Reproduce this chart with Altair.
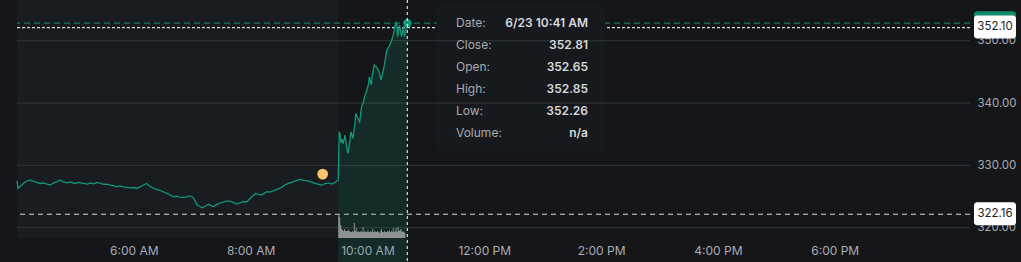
import altair as alt
import pandas as pd

DAY = "2023-06-23"

# Pre-market price (4:00 - 9:29)
pre_times = ["04:00","04:01","04:03","04:05","04:08","04:10","04:13","04:16","04:20","04:24","04:27","04:30",
             "04:34","04:38","04:41","04:44","04:47","04:51","04:55","04:59","05:03","05:07","05:12","05:16",
             "05:19","05:22","05:26","05:29","05:32","05:36","05:39","05:42","05:46","05:49","05:53","05:57",
             "06:00","06:03","06:07","06:10","06:13","06:16","06:19","06:22","06:26","06:30","06:34","06:38",
             "06:41","06:44","06:47","06:51","06:54","06:57","07:00","07:03","07:05","07:08","07:10","07:13",
             "07:17","07:20","07:22","07:25","07:29","07:32","07:35","07:39","07:42","07:46","07:49","07:52",
             "07:56","07:59","08:02","08:05","08:08","08:11","08:14","08:17","08:20","08:24","08:27","08:31",
             "08:35","08:39","08:44","08:47","08:51","08:54","08:58","09:02","09:06","09:09","09:13","09:16",
             "09:20","09:23","09:25","09:27","09:29"]
pre_close = [327.54,326.30,326.60,326.85,327.30,327.45,327.65,327.50,327.28,327.10,327.20,327.05,
             326.85,327.20,327.40,327.65,327.40,327.20,327.35,327.10,327.27,327.15,327.00,327.20,
             327.05,327.27,327.10,326.95,327.00,326.85,326.75,326.57,326.70,326.55,326.48,326.40,
             326.45,326.30,326.60,326.85,327.10,326.70,326.45,326.20,326.05,325.77,325.50,325.20,
             324.97,325.05,324.90,324.87,324.95,325.10,324.97,324.30,323.60,323.40,323.20,323.45,
             323.75,323.50,323.37,323.70,324.00,324.10,324.25,324.28,324.05,323.80,324.00,324.20,
             324.17,324.60,325.10,325.50,325.35,325.24,325.50,325.77,325.70,325.95,326.16,326.40,
             326.85,327.10,327.38,327.55,327.76,327.60,327.54,327.35,327.10,327.00,326.85,327.05,
             327.20,327.00,327.10,327.30,327.54]

# Regular session price (9:30 - 10:41)
reg_times = ["09:30","09:31","09:32","09:33","09:34","09:35","09:37","09:39","09:40","09:42","09:43","09:45",
             "09:47","09:48","09:50","09:52","09:54","09:56","09:57","09:59","10:01","10:02","10:04","10:05",
             "10:07","10:09","10:11","10:12","10:14","10:15","10:17","10:19","10:20","10:22","10:23","10:25",
             "10:27","10:28","10:30","10:31","10:33","10:35","10:37","10:38","10:39","10:41"]
reg_close = [327.60,335.40,334.90,333.60,334.20,333.50,334.87,332.60,331.93,334.00,335.40,334.34,
             336.50,338.35,337.60,337.00,339.41,340.20,341.00,341.80,343.00,344.20,342.90,344.50,
             346.10,345.80,345.30,345.00,343.70,344.40,345.80,347.60,348.50,349.00,349.30,350.10,
             351.20,352.25,353.05,350.64,352.50,350.64,352.25,350.64,351.50,352.81]

# Volume per minute, thousands of shares (9:30 - 10:39)
vol_start = "09:30"
volume_k = [2400,2100,1300,900,800,700,900,700,700,700,800,700,600,600,700,600,1500,700,1000,600,
            700,600,600,700,600,1100,600,700,600,600,800,600,600,700,600,900,600,700,600,600,
            700,600,500,700,900,600,600,700,600,600,700,600,800,600,700,600,1000,600,700,1000,
            600,1100,700,800,900,600,700,600,500,500]

# Session bounds, ticks, reference levels
premarket = ["04:00", "09:30"]
x_domain = ["04:00", "20:19"]
x_ticks_h = [6, 8, 10, 12, 14, 16, 18]
y_ticks = [320, 330, 340, 350]
y_domain = [318.35, 356.53]
prev_close = 322.16
cursor_price = 352.10
last_price = 352.81
cursor_time = "10:41"
event_time = "09:14"
event_price = 328.6

tip_labels = ["Date:", "Close:", "Open:", "High:", "Low:", "Volume:"]
tip_values = ["6/23 10:41 AM", "352.81", "352.65", "352.85", "352.26", "n/a"]

BG = "#14161a"
GREEN = "#13987a"
TXT = "#a9acb2"
FONT = "Inter"
OX = 17  # plot origin x inside the page (pixel values below are relative to it)


def ts(hm):
    return f"{DAY}T{hm}:00"


price_pre = pd.DataFrame({"t": [ts(t) for t in pre_times], "p": pre_close})
price_reg = pd.DataFrame({"t": [ts(t) for t in reg_times], "p": reg_close})
price_all = pd.concat([price_pre, price_reg], ignore_index=True)
vol_t = pd.date_range(ts(vol_start), periods=len(volume_k), freq="min").strftime("%Y-%m-%dT%H:%M:%S")
vol_df = pd.DataFrame({"t": list(vol_t), "v": volume_k})

x_scale = alt.Scale(domain=[ts(x_domain[0]), ts(x_domain[1])])
y_scale = alt.Scale(domain=y_domain, nice=False, zero=False)
tick_vals = [alt.DateTime(year=2023, month=6, date=23, hours=h) for h in x_ticks_h]

X = alt.X("t:T", scale=x_scale, title=None,
          axis=alt.Axis(values=tick_vals, format="%-I:%M %p", grid=False, domain=False, ticks=False,
                        labelColor=TXT, labelFont=FONT, labelFontSize=12, labelPadding=7,
                        labelFlush=False))
Y = alt.Y("p:Q", scale=y_scale, title=None,
          axis=alt.Axis(orient="right", values=y_ticks, format=".2f", grid=False, domain=False,
                        ticks=False, labelColor=TXT, labelFont=FONT, labelFontSize=11.5,
                        labelPadding=7))

# Pre-market background
pm_df = pd.DataFrame({"t0": [ts(premarket[0])], "t1": [ts(premarket[1])]})
pm_bg = alt.Chart(pm_df).mark_rect(color="#191c20").encode(
    x=alt.X("t0:T", scale=x_scale), x2="t1:T", y=alt.value(0), y2=alt.value(238))

# Reference lines
lvl_df = pd.DataFrame({"p": [prev_close]})
prev_rule = alt.Chart(lvl_df).mark_rule(color="#d9dadc", strokeDash=[5, 4], strokeWidth=1).encode(
    y=alt.Y("p:Q", scale=y_scale))
last_rule = alt.Chart(pd.DataFrame({"p": [last_price]})).mark_rule(
    color=GREEN, strokeDash=[6, 4], strokeWidth=1.3, opacity=0.75).encode(y=alt.Y("p:Q", scale=y_scale))
cur_rule = alt.Chart(pd.DataFrame({"p": [cursor_price]})).mark_rule(
    color="#d9dadc", strokeDash=[3, 2], strokeWidth=1.2).encode(y=alt.Y("p:Q", scale=y_scale))

# Tooltip panel background
tip_bg = alt.Chart(pd.DataFrame({"a": [0]})).mark_rect(color="#16191d", cornerRadius=4).encode(
    x=alt.value(437 - OX), x2=alt.value(605 - OX), y=alt.value(5), y2=alt.value(152))

# Gridlines
grid = alt.Chart(pd.DataFrame({"p": y_ticks})).mark_rule(color="#33363b", strokeWidth=1).encode(
    y=alt.Y("p:Q", scale=y_scale))

# Price area + line
area = alt.Chart(price_reg).mark_area(
    line=False,
    color=alt.Gradient(gradient="linear",
                       stops=[alt.GradientStop(color="rgba(20,160,126,0.16)", offset=0),
                              alt.GradientStop(color="rgba(20,160,126,0.02)", offset=1)],
                       x1=0, x2=0, y1=0, y2=1)).encode(
    x=alt.X("t:T", scale=x_scale), y=alt.Y("p:Q", scale=y_scale), y2=alt.value(238))
line = alt.Chart(price_all).mark_line(color=GREEN, strokeWidth=1.3).encode(x=X, y=Y)

# Event dot & last dot
ev = alt.Chart(pd.DataFrame({"t": [ts(event_time)], "p": [event_price]})).mark_point(
    filled=True, color="#f8c46c", size=115, opacity=1).encode(
    x=alt.X("t:T", scale=x_scale), y=alt.Y("p:Q", scale=y_scale))
last_dot = alt.Chart(pd.DataFrame({"t": [ts(cursor_time)], "p": [last_price]})).mark_point(
    filled=True, color=GREEN, size=70, opacity=1).encode(
    x=alt.X("t:T", scale=x_scale), y=alt.Y("p:Q", scale=y_scale))

# Vertical crosshair
vcross = alt.Chart(pd.DataFrame({"t": [ts(cursor_time)]})).mark_rule(
    color="#d9dadc", strokeDash=[3, 3], strokeWidth=1.2).encode(
    x=alt.X("t:T", scale=x_scale), y=alt.value(0), y2=alt.value(262))

# Tooltip text
tip_df = pd.DataFrame({"lab": tip_labels, "val": tip_values, "i": list(range(len(tip_labels)))})
tip_lab = alt.Chart(tip_df).transform_calculate(py="23 + datum.i * 22").mark_text(
    align="left", baseline="middle", font=FONT, fontSize=12, color="#a8abb0").encode(
    x=alt.value(456 - OX), y=alt.Y("py:Q", scale=None), text="lab:N")
tip_val = alt.Chart(tip_df).transform_calculate(py="23 + datum.i * 22").mark_text(
    align="right", baseline="middle", font=FONT, fontSize=12, fontWeight=600, color="#d6d8db").encode(
    x=alt.value(588 - OX), y=alt.Y("py:Q", scale=None), text="val:N")

# Price label boxes on right
green_box = alt.Chart(pd.DataFrame({"p": [last_price]})).mark_rect(
    color="#0f8a6c", cornerRadius=3, yOffset=-12, y2Offset=11).encode(
    x=alt.value(974 - OX), x2=alt.value(1016 - OX), y=alt.Y("p:Q", scale=y_scale), y2="p:Q")
box_df = pd.DataFrame({"p": [cursor_price, prev_close], "lab": [f"{cursor_price:.2f}", f"{prev_close:.2f}"]})
white_box = alt.Chart(box_df).mark_rect(
    color="#ffffff", cornerRadius=3, yOffset=-12, y2Offset=11).encode(
    x=alt.value(974 - OX), x2=alt.value(1016 - OX), y=alt.Y("p:Q", scale=y_scale), y2="p:Q")
box_txt = alt.Chart(box_df).mark_text(
    align="center", baseline="middle", font=FONT, fontSize=11.5, color="#1f2125", dy=-0.5).encode(
    x=alt.value(995 - OX), y=alt.Y("p:Q", scale=y_scale), text="lab:N")

main = alt.layer(pm_bg, last_rule, cur_rule, prev_rule, tip_bg, grid, area, line, ev, last_dot,
                 vcross, tip_lab, tip_val, green_box, white_box, box_txt)

vol = alt.Chart(vol_df).mark_area(interpolate="step-after", color="#8e9196", opacity=1).encode(
    x=alt.X("t:T", scale=x_scale),
    y=alt.Y("v:Q", scale=alt.Scale(domain=[0, 23800]), axis=None))

chart = alt.layer(main, vol).resolve_scale(y="independent").properties(
    width=953, height=238,
    padding={"left": 17, "top": 0, "right": 51, "bottom": 24},
    autosize=alt.AutoSizeParams(type="none"),
    background=BG,
).configure_view(stroke=None)

chart.save("out.html", embed_options={"renderer": "svg", "actions": False})
